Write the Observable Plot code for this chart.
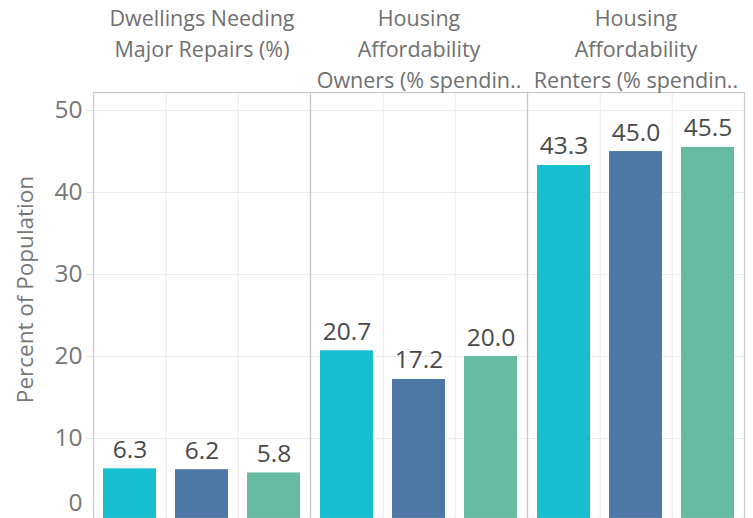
<!DOCTYPE html>
<html>
<head>
<meta charset="utf-8">
<script src="https://cdn.jsdelivr.net/npm/d3@7"></script>
<script src="https://cdn.jsdelivr.net/npm/@observablehq/plot@0.6"></script>
<style>
  html, body { margin: 0; padding: 0; background: #fff; overflow: hidden; }
  #chart svg { display: block; }
</style>
</head>
<body>
<div id="chart"></div>
<script>
const categories = [
  "Dwellings Needing\nMajor Repairs (%)",
  "Housing\nAffordability\nOwners (% spendin..",
  "Housing\nAffordability\nRenters (% spendin.."
];
const series = ["Series 1", "Series 2", "Series 3"];
const valuesSeries1 = [6.3, 20.7, 43.3];
const valuesSeries2 = [6.2, 17.2, 45.0];
const valuesSeries3 = [5.8, 20.0, 45.5];
const colors = ["#17becf", "#4e79a7", "#67bba2"];
const yTicks = [0, 10, 20, 30, 40, 50];
const yLabel = "Percent of Population";

const seriesValues = [valuesSeries1, valuesSeries2, valuesSeries3];
const data = [];
categories.forEach((c, i) => {
  series.forEach((s, j) => data.push({category: c, series: s, value: seriesValues[j][i]}));
});

const W = 753, H = 518;
const mL = 92, mR = 8, mT = 92;
const facetW = (W - mL - mR) / categories.length;
const font = "'Open Sans', sans-serif";

const chart = Plot.plot({
  width: W,
  height: H,
  marginLeft: mL,
  marginRight: mR,
  marginTop: mT,
  marginBottom: 0,
  style: {fontFamily: font, background: "#fff"},
  fx: {domain: categories, padding: 0, axis: null},
  x: {domain: series, paddingInner: 0.26, paddingOuter: 0.13, axis: null},
  y: {domain: [0, 52.2], range: [520, mT], axis: null},
  color: {domain: series, range: colors},
  marks: [
    Plot.ruleY(yTicks.slice(1), {stroke: "#ececec", strokeWidth: 1}),
    Plot.ruleX(series.slice(0, 2), {x: d => d, dx: facetW / 3 / 2, stroke: "#ececec", strokeWidth: 1}),
    Plot.barY(data, {fx: "category", x: "series", y: "value", fill: "series"}),
    Plot.text(data, {fx: "category", x: "series", y: "value", text: d => d.value.toFixed(1),
      lineAnchor: "bottom", dy: -11, fontSize: 24.5, fill: "#4a4a4a"}),
    Plot.frame({stroke: "#c8c8c8", strokeWidth: 1.2}),
    Plot.text(categories, {fx: d => d, text: d => d, frameAnchor: "top", dy: -mT + 3,
      lineAnchor: "top", lineHeight: 1.45, fontSize: 21.5, fill: "#707070"}),
    Plot.axisY({ticks: yTicks.slice(1), tickSize: 7, tickPadding: 4, stroke: "#e3e3e3",
      fontSize: 24.5, color: "#777", label: null}),
    Plot.axisY({ticks: [0], tickSize: 0, tickPadding: 11, dy: -17, fontSize: 24.5, color: "#777", label: null}),
    Plot.text([categories[0]], {fx: d => d, text: () => yLabel, frameAnchor: "left", rotate: -90,
      textAnchor: "middle", lineAnchor: "middle", dx: -(mL - 24), dy: -16, fontSize: 22.5, fill: "#777"})
  ]
});

document.getElementById("chart").appendChild(chart);
</script>
</body>
</html>
